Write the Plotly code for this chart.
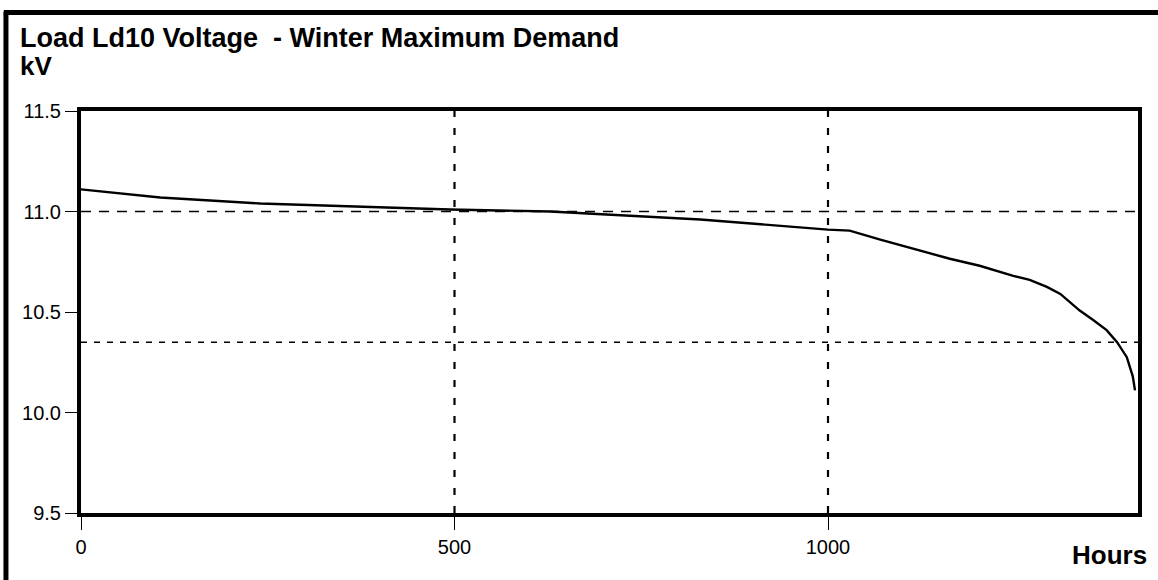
import plotly.graph_objects as go

# ---- data ----
hours = [0, 106, 240, 373, 427, 494, 628, 829, 1000, 1029, 1070, 1110, 1163,
         1203, 1230, 1248, 1270, 1293, 1311, 1324, 1337, 1355, 1373, 1387,
         1400, 1408, 1411]
voltage_kv = [11.11, 11.07, 11.04, 11.025, 11.02, 11.01, 11.00, 10.96, 10.91,
              10.905, 10.86, 10.82, 10.765, 10.73, 10.70, 10.68, 10.66, 10.625,
              10.59, 10.55, 10.507, 10.46, 10.41, 10.35, 10.275, 10.18, 10.11]
ref_levels_kv = [11.0, 10.35]
grid_hours = [500, 1000]
x_ticks = [0, 500, 1000]
y_ticks = [9.5, 10.0, 10.5, 11.0, 11.5]
y_tick_labels = ["9.5", "10.0", "10.5", "11.0", "11.5"]
x_range = [0, 1415]
y_range = [9.5, 11.5]

title_text = "Load Ld10 Voltage  - Winter Maximum Demand"
unit_text = "kV"
x_title = "Hours"

FONT = "Liberation Sans, Arial, sans-serif"

fig = go.Figure()

# vertical dashed reference lines
for h in grid_hours:
    fig.add_trace(go.Scatter(x=[h, h], y=y_range, mode="lines",
                             line=dict(color="black", width=2.2, dash="7px,11px"),
                             hoverinfo="skip", showlegend=False))

# horizontal dashed reference lines
fig.add_trace(go.Scatter(x=x_range, y=[ref_levels_kv[0]] * 2, mode="lines",
                         line=dict(color="black", width=1.7, dash="10px,8px"),
                         hoverinfo="skip", showlegend=False))
fig.add_trace(go.Scatter(x=x_range, y=[ref_levels_kv[1]] * 2, mode="lines",
                         line=dict(color="black", width=1.5, dash="6px,7px"),
                         hoverinfo="skip", showlegend=False))

# voltage duration curve
fig.add_trace(go.Scatter(x=hours, y=voltage_kv, mode="lines",
                         line=dict(color="black", width=2.4),
                         showlegend=False))

fig.update_layout(
    width=1158, height=580,
    margin=dict(l=81, r=20, t=111, b=67),
    paper_bgcolor="white", plot_bgcolor="white",
    font=dict(family=FONT, color="black"),
    xaxis=dict(range=x_range, tickvals=x_ticks, ticks="outside", ticklen=13,
               tickwidth=1, tickcolor="black", showgrid=False, zeroline=False,
               showline=True, linecolor="black", linewidth=4, mirror=True,
               tickfont=dict(size=20, family=FONT, color="black")),
    yaxis=dict(range=y_range, tickvals=y_ticks, ticktext=y_tick_labels,
               ticks="outside", ticklen=12, tickwidth=1, tickcolor="black",
               showgrid=False, zeroline=False, showline=True,
               linecolor="black", linewidth=4, mirror=True,
               tickfont=dict(size=20, family=FONT, color="black")),
    shapes=[
        dict(type="line", xref="paper", yref="paper", x0=-0.071, x1=-0.071,
             y0=1.247, y1=-0.2, line=dict(color="black", width=5)),
        dict(type="line", xref="paper", yref="paper", x0=-0.073, x1=1.1,
             y0=1.245, y1=1.245, line=dict(color="black", width=5)),
    ],
    annotations=[
        dict(text="<b>" + title_text + "</b>", xref="paper", yref="paper",
             x=-0.0596, y=1.1816, xanchor="left", yanchor="middle",
             showarrow=False, font=dict(size=27, family=FONT, color="black")),
        dict(text="<b>" + unit_text + "</b>", xref="paper", yref="paper",
             x=-0.0596, y=1.112, xanchor="left", yanchor="middle",
             showarrow=False, font=dict(size=26, family=FONT, color="black")),
        dict(text="<b>" + x_title + "</b>", xref="paper", yref="paper",
             x=1.0104, y=-0.104, xanchor="right", yanchor="middle",
             showarrow=False, font=dict(size=26, family=FONT, color="black")),
    ],
)

fig.write_html("out.html",
               config={"displayModeBar": False},
               post_script="document.body.style.margin='0';"
                           "document.body.style.overflow='hidden';")
